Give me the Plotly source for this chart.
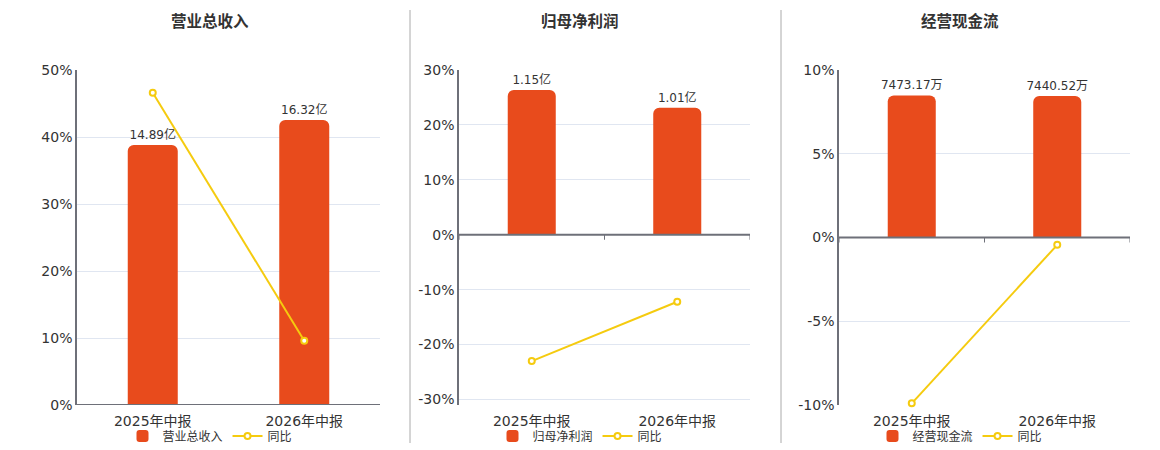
import plotly.graph_objects as go

# data
periods = ['2025年中报', '2026年中报']

revenue = [14.89, 16.32]          # 亿
revenue_yoy = [46.6, 9.6]         # %
profit = [1.15, 1.01]             # 亿
profit_yoy = [-23.0, -12.2]       # %
cashflow = [7473.17, 7440.52]     # 万
cashflow_yoy = [-9.9, -0.44]      # %

titles = ['营业总收入', '归母净利润', '经营现金流']
units = ['亿', '亿', '万']
pct_ranges = [[0, 50], [-31, 30], [-10, 10]]
pct_ticks = [[0, 10, 20, 30, 40, 50], [-30, -20, -10, 0, 10, 20, 30], [-10, -5, 0, 5, 10]]
bar_ranges = [[0, 19.18], [-1.353, 1.309], [-8813, 8813]]

BAR = '#E84B1C'
LINE = '#F5CB0F'
AXIS = '#6E7079'
GRID = '#E0E6F1'
TXT = '#333333'
FONT = 'DejaVu Sans, Noto Sans CJK SC, sans-serif'

W, H = 1160, 450
x_domains = [[77 / W, 380 / W], [459 / W, 750 / W], [839 / W, 1130 / W]]
y_domain = [1 - 405 / H, 1 - 70 / H]
title_x = [210, 580, 960]
legend_x = [210, 580, 960]

bars = [revenue, profit, cashflow]
lines = [revenue_yoy, profit_yoy, cashflow_yoy]

fig = go.Figure()
shapes = []
annotations = []
layout = {}

for i in range(3):
    n = i + 1
    xa = 'x' if n == 1 else f'x{n}'
    # percent axis (visible), bar axis (hidden), line axis (hidden, same range as percent)
    ids = [3 * i + 1, 3 * i + 2, 3 * i + 3]
    y_pct, y_bar, y_line = [('y' if k == 1 else f'y{k}') for k in ids]
    k_pct, k_bar, k_line = [('yaxis' if k == 1 else f'yaxis{k}') for k in ids]
    leg = 'legend' if n == 1 else f'legend{n}'

    fig.add_trace(go.Bar(
        x=periods, y=bars[i], name=titles[i],
        xaxis=xa, yaxis=y_bar, legend=leg,
        width=0.33,
        marker=dict(color=BAR, cornerradius=6, line=dict(width=0)),
        text=[f'{v:.2f}{units[i]}' for v in bars[i]],
        textposition='outside', cliponaxis=False, constraintext='none',
        textfont=dict(size=12, color=TXT, family=FONT),
        hoverinfo='skip',
    ))
    fig.add_trace(go.Scatter(
        x=periods, y=lines[i], name='同比', mode='lines+markers',
        xaxis=xa, yaxis=y_line, legend=leg,
        line=dict(color=LINE, width=2),
        marker=dict(symbol='circle', size=6, color='white',
                    line=dict(color=LINE, width=2)),
        cliponaxis=False,
    ))

    xkey = 'xaxis' if n == 1 else f'xaxis{n}'
    layout[xkey] = dict(
        domain=x_domains[i], anchor=y_pct, type='category',
        categoryorder='array', categoryarray=periods, range=[-0.5, 1.5],
        showline=False, showgrid=False, ticks='', zeroline=False,
        ticklabelstandoff=6,
        tickfont=dict(size=14, color=TXT, family=FONT),
    )
    layout[k_pct] = dict(
        domain=y_domain, anchor=xa, range=pct_ranges[i],
        tickvals=pct_ticks[i], ticktext=[f'{t}%' for t in pct_ticks[i]],
        showline=True, linecolor=AXIS, linewidth=1.5,
        showgrid=True, gridcolor=GRID, gridwidth=1,
        zeroline=False, ticks='',
        tickfont=dict(size=14, color=TXT, family=FONT),
    )
    layout[k_bar] = dict(
        domain=y_domain, anchor=xa, overlaying=y_pct,
        range=bar_ranges[i], visible=False, showgrid=False, zeroline=False,
    )
    layout[k_line] = dict(
        domain=y_domain, anchor=xa, overlaying=y_pct,
        range=pct_ranges[i], visible=False, showgrid=False, zeroline=False,
    )

    # x axis line drawn at zero, with ticks on category boundaries
    shapes.append(dict(type='line', xref=f'{xa} domain', yref=y_pct,
                       x0=0, x1=1, y0=0, y1=0, layer='above',
                       line=dict(color=AXIS, width=2)))
    for b in [-0.5, 0.5, 1.5]:
        shapes.append(dict(type='line', xref=xa, yref=y_pct,
                           ysizemode='pixel', yanchor=0,
                           x0=b, x1=b, y0=0, y1=-5,
                           line=dict(color=AXIS, width=1)))

    annotations.append(dict(
        text=f'<b>{titles[i]}</b>', xref='paper', yref='paper',
        x=title_x[i] / W, y=1 - 22 / H, xanchor='center', yanchor='middle',
        showarrow=False, font=dict(size=15.5, color=TXT, family=FONT),
    ))

    layout[leg] = dict(
        orientation='h', x=legend_x[i] / W, y=1 - 436 / H,
        xanchor='center', yanchor='middle', bgcolor='rgba(0,0,0,0)',
        font=dict(size=12, color=TXT, family=FONT),
        itemwidth=30, tracegroupgap=0,
    )

# panel separators
for sx in [410, 781]:
    shapes.append(dict(type='line', xref='paper', yref='paper',
                       x0=sx / W, x1=sx / W, y0=1 - 10 / H, y1=1 - 443 / H,
                       line=dict(color='#AAAAAA', width=1)))

fig.update_layout(
    width=W, height=H,
    margin=dict(l=0, r=0, t=0, b=0, autoexpand=False),
    paper_bgcolor='white', plot_bgcolor='white',
    showlegend=True,
    shapes=shapes, annotations=annotations,
    font=dict(family=FONT, color=TXT),
    **layout,
)

fig.write_html(
    'out.html',
    config={'displayModeBar': False},
    post_script="document.body.style.margin='0';",
)
